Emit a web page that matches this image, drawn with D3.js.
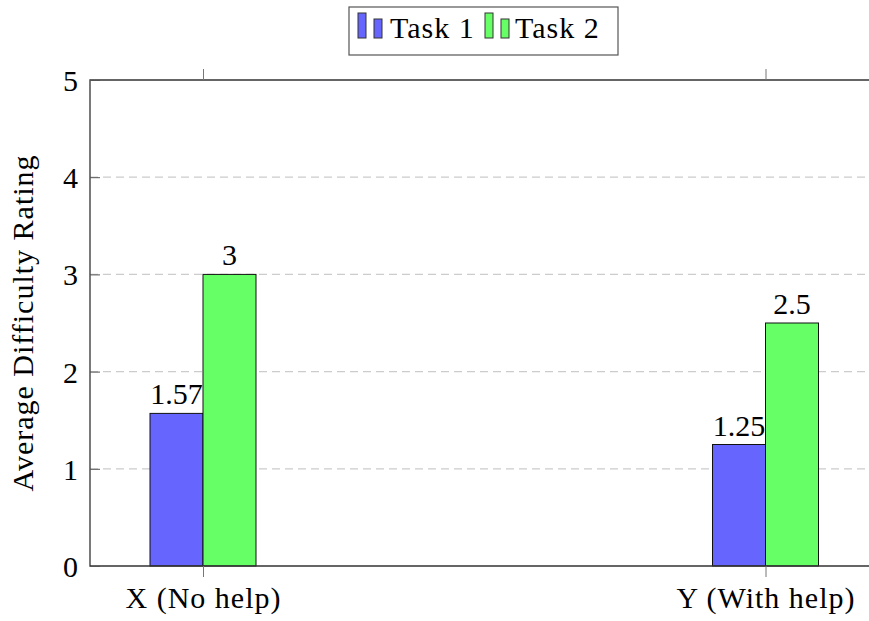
<!DOCTYPE html>
<html><head><meta charset="utf-8">
<script src="https://cdn.jsdelivr.net/npm/d3@7"></script>
<style>body{margin:0;background:#fff;overflow:hidden}svg{display:block}text{font-family:"Liberation Serif",serif;fill:#000}</style>
</head><body><svg id="c" width="869" height="621"></svg>
<script>
const categories = ["X (No help)", "Y (With help)"];
const seriesNames = ["Task 1", "Task 2"];
const task1 = [1.57, 1.25];
const task2 = [3, 2.5];
const yTicks = [0, 1, 2, 3, 4, 5];
const colors = ["#6666ff", "#66ff66"];

const svg = d3.select("#c");
const L = 90, R = 878, T = 80, B = 566;
const FS = 30;
const LS = "1px";
const y = d3.scaleLinear().domain([0, 5]).range([B, T]);
const x = d3.scalePoint().domain(categories).range([203, 765.5]);
const bw = 53;
const sub = d3.scaleBand().domain(seriesNames).range([-bw, bw]);

// grid
svg.append("g").selectAll("line").data(yTicks.filter(d => d > 0 && d < 5)).join("line")
  .attr("x1", L).attr("x2", R).attr("y1", d => y(d)).attr("y2", d => y(d))
  .attr("stroke", "#cccccc").attr("stroke-width", 1.2).attr("stroke-dasharray", "8,5");

// bars
const series = [task1, task2];
series.forEach((vals, si) => {
  const g = svg.append("g");
  g.selectAll("rect").data(vals).join("rect")
    .attr("x", (d, i) => x(categories[i]) + sub(seriesNames[si]))
    .attr("width", sub.bandwidth())
    .attr("y", d => y(d)).attr("height", d => B - y(d))
    .attr("fill", colors[si]).attr("stroke", "#111").attr("stroke-width", 1);
  g.selectAll("text").data(vals).join("text")
    .attr("x", (d, i) => x(categories[i]) + sub(seriesNames[si]) + sub.bandwidth() / 2)
    .attr("y", d => y(d) - 9).attr("text-anchor", "middle").attr("font-size", FS)
    .text(d => d);
});

// axis lines (left, top, bottom; right edge is beyond the picture)
svg.append("path").attr("d", `M${R},${T}H${L}V${B}H${R}`)
  .attr("fill", "none").attr("stroke", "#333").attr("stroke-width", 1.3);

// y axis
const ya = d3.axisLeft(y).tickValues(yTicks).tickSize(-10).tickPadding(12).tickFormat(d3.format("d"));
const yg = svg.append("g").attr("transform", `translate(${L},0)`).call(ya);
yg.attr("font-family", null);
yg.select(".domain").remove();
yg.selectAll(".tick line").attr("stroke", "#555");
yg.selectAll(".tick text").attr("font-size", FS).attr("fill", "#000").attr("dy", "0.35em");

// x axis
const xa = d3.axisBottom(x).tickSize(11).tickPadding(10);
const xg = svg.append("g").attr("transform", `translate(0,${B})`).call(xa);
xg.attr("font-family", null);
xg.select(".domain").remove();
xg.selectAll(".tick line").attr("stroke", "#777");
xg.selectAll(".tick text").attr("font-size", FS).attr("fill", "#000").attr("letter-spacing", LS);
const xt = d3.axisTop(x).tickSize(11).tickFormat("");
const xtg = svg.append("g").attr("transform", `translate(0,${T})`).call(xt);
xtg.select(".domain").remove();
xtg.selectAll(".tick line").attr("stroke", "#777");

// y label
svg.append("text").attr("transform", `translate(33,${(T + B) / 2}) rotate(-90)`)
  .attr("text-anchor", "middle").attr("font-size", FS).attr("letter-spacing", LS)
  .text("Average Difficulty Rating");

// legend
const lg = svg.append("g");
lg.append("rect").attr("x", 349).attr("y", 7).attr("width", 269).attr("height", 48)
  .attr("fill", "#fff").attr("stroke", "#555").attr("stroke-width", 1.2);
const legItems = [{x: 358, tx: 390}, {x: 485, tx: 515}];
seriesNames.forEach((n, i) => {
  const it = legItems[i];
  lg.append("rect").attr("x", it.x).attr("y", 13).attr("width", 8).attr("height", 25)
    .attr("fill", colors[i]).attr("stroke", "#333").attr("stroke-width", 1);
  lg.append("rect").attr("x", it.x + 16).attr("y", 19).attr("width", 8).attr("height", 19)
    .attr("fill", colors[i]).attr("stroke", "#333").attr("stroke-width", 1);
  lg.append("text").attr("x", it.tx).attr("y", 38).attr("font-size", FS).attr("letter-spacing", LS).text(n);
});
</script></body></html>
